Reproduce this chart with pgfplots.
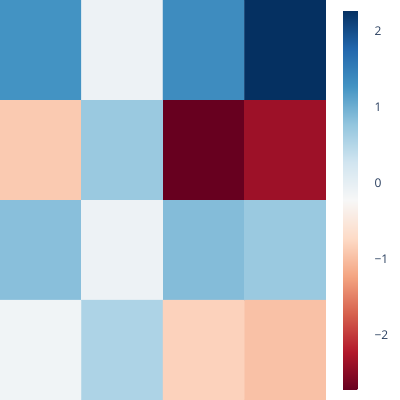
\documentclass[border=0pt]{standalone}
\usepackage{fontspec}
\setmainfont{Open Sans}
\usepackage{pgfplots}
\pgfplotsset{compat=1.18}
\definecolor{txt}{HTML}{2A3F5F}

\pgfplotstableread{
x y c
0 0 1.28
1 0 -0.09
2 0 1.36
3 0 2.28
0 1 -0.88
1 1 0.72
2 1 -2.72
3 1 -2.36
0 2 0.84
1 2 -0.09
2 2 0.87
3 2 0.72
0 3 -0.13
1 3 0.57
2 3 -0.80
3 3 -0.96
}\cells

\begin{document}
\begin{tikzpicture}
\begin{axis}[
  at={(0,0)}, anchor=south west,
  width=326pt, height=400pt, scale only axis,
  hide axis,
  enlargelimits=false,
  xmin=-0.5, xmax=3.5, ymin=-0.5, ymax=3.5,
  y dir=reverse,
  colormap={RdBu}{rgb255=(103,0,31) rgb255=(178,24,43) rgb255=(214,96,77)
    rgb255=(244,165,130) rgb255=(253,219,199) rgb255=(247,247,247)
    rgb255=(209,229,240) rgb255=(146,197,222) rgb255=(67,147,195)
    rgb255=(33,102,172) rgb255=(5,48,97)},
  point meta min=-2.72, point meta max=2.28,
  colorbar,
  colorbar style={
    at={(parent axis.north east)}, anchor=north west,
    xshift=8.5pt, yshift=-10pt,
    width=30pt, height=380pt, scale only axis,
    axis line style={draw=none},
    major tick length=0pt,
    ytick={-2,-1,0,1,2},
    yticklabels={−2,−1,0,1,2},
    yticklabel pos=right,
    yticklabel style={font=\fontsize{12}{14}\selectfont, text=txt, anchor=west, xshift=-2pt},
  },
]
\addplot[matrix plot*, mesh/cols=4, point meta=explicit] table[meta=c] {\cells};
\end{axis}
\pgfresetboundingbox
\path (0,0) rectangle (400pt,400pt);
\end{tikzpicture}
\end{document}
